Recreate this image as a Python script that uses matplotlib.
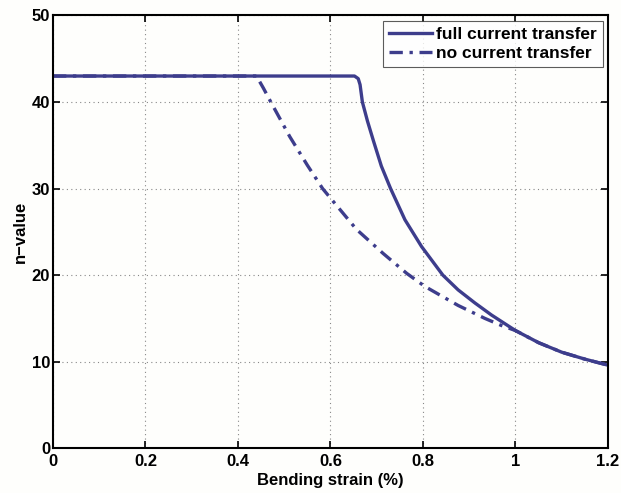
import matplotlib
matplotlib.use("Agg")
import matplotlib.pyplot as plt

plt.rcParams['font.family'] = ['Liberation Sans', 'DejaVu Sans']
plt.rcParams['font.weight'] = 'bold'

# Data
full_x = [0.0, 0.640, 0.652, 0.660, 0.664, 0.669, 0.680, 0.693, 0.710, 0.730, 0.761,
          0.797, 0.843, 0.876, 0.912, 0.948, 1.000, 1.050, 1.100, 1.150, 1.200]
full_y = [43.0, 43.0, 43.0, 42.7, 42.0, 40.0, 37.8, 35.5, 32.6, 30.0, 26.4,
          23.3, 20.0, 18.3, 16.8, 15.4, 13.6, 12.2, 11.1, 10.3, 9.6]

none_x = [0.0, 0.440, 0.455, 0.471, 0.512, 0.550, 0.583, 0.600, 0.656, 0.685, 0.714,
          0.765, 0.804, 0.876, 0.934, 0.969, 1.000, 1.050, 1.100, 1.150, 1.200]
none_y = [43.0, 43.0, 41.6, 40.0, 36.0, 32.7, 30.0, 28.9, 25.3, 23.9, 22.5,
          20.2, 18.7, 16.5, 15.0, 14.2, 13.6, 12.2, 11.1, 10.3, 9.6]

x_ticks = [0, 0.2, 0.4, 0.6, 0.8, 1.0, 1.2]
x_labels = ["0", "0.2", "0.4", "0.6", "0.8", "1", "1.2"]
y_ticks = [0, 10, 20, 30, 40, 50]
y_labels = ["0", "10", "20", "30", "40", "50"]

color = "#3d3d8c"

fig = plt.figure(figsize=(6.21, 4.93), dpi=100)
fig.patch.set_facecolor("#fefefc")
ax = fig.add_axes([0.0853, 0.0907, 0.8937, 0.878])
ax.set_facecolor("#fefefc")

ax.plot(full_x, full_y, color=color, lw=2.4, ls='-', label="full current transfer")
ax.plot(none_x, none_y, color=color, lw=2.4, ls=(0, (4, 2, 1, 2)), label="no current transfer")

ax.set_xlim(0, 1.2)
ax.set_ylim(0, 50)
ax.set_xticks(x_ticks)
ax.set_xticklabels(x_labels)
ax.set_yticks(y_ticks)
ax.set_yticklabels(y_labels)

ax.grid(True, ls=(0, (1, 3)), color="#888888", lw=0.8)
ax.tick_params(direction='in', length=5, width=1.2, top=True, right=True,
               labelsize=12, pad=2)
ax.tick_params(axis='x', pad=4)
for lab in ax.get_xticklabels() + ax.get_yticklabels():
    lab.set_fontweight('bold')
for s in ax.spines.values():
    s.set_linewidth(1.5)

ax.set_xlabel("Bending strain (%)", fontsize=12, fontweight='bold', labelpad=3)
ax.set_ylabel("n\u2212value", fontsize=12, fontweight='bold', labelpad=3)

leg = ax.legend(loc='upper right', fontsize=12.5, frameon=True, fancybox=False,
                edgecolor="#333333", handlelength=2.5, handletextpad=0.2,
                borderpad=0.35, labelspacing=0.25, borderaxespad=0.3)
leg.get_frame().set_linewidth(0.8)
for t in leg.get_texts():
    t.set_fontweight('bold')

fig.savefig("out.png", dpi=100, facecolor=fig.get_facecolor())
